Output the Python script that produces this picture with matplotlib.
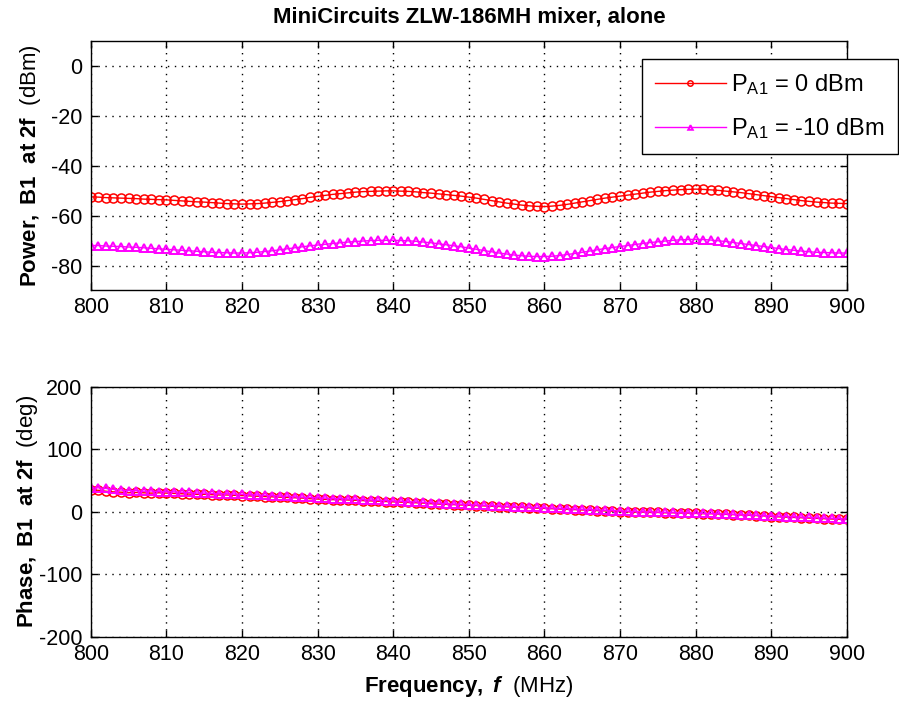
import numpy as np
import matplotlib
matplotlib.use("Agg")
import matplotlib.pyplot as plt

plt.rcParams["font.family"] = ["Liberation Sans", "DejaVu Sans"]
plt.rcParams["axes.unicode_minus"] = False
plt.rcParams["mathtext.fontset"] = "custom"
plt.rcParams["mathtext.rm"] = "Liberation Sans"
plt.rcParams["mathtext.bf"] = "Liberation Sans:bold"
plt.rcParams["mathtext.it"] = "Liberation Sans:italic"
plt.rcParams["mathtext.bfit"] = "Liberation Sans:italic:bold"

""" Sweep frequency (MHz), 1 MHz steps """
FREQ = np.arange(800, 901)

""" Output power of B1 at 2f (dBm), read off the plot """
power_0dbm = [
    -52.5, -52.6, -52.8, -52.9, -53.0, -53.1, -53.2, -53.4, -53.5, -53.6,
    -53.7, -53.9, -54.1, -54.3, -54.5, -54.6, -54.8, -55.0, -55.2, -55.3,
    -55.4, -55.3, -55.2, -55.0, -54.7, -54.4, -54.0, -53.6, -53.2, -52.7,
    -52.3, -51.9, -51.5, -51.2, -50.9, -50.6, -50.4, -50.3, -50.2, -50.1,
    -50.1, -50.2, -50.3, -50.5, -50.8, -51.0, -51.3, -51.6, -51.9, -52.2,
    -52.6, -53.0, -53.5, -54.0, -54.5, -55.0, -55.4, -55.8, -56.1, -56.3,
    -56.4, -56.2, -55.9, -55.5, -55.0, -54.5, -54.0, -53.5, -53.0, -52.6,
    -52.2, -51.8, -51.4, -51.0, -50.6, -50.3, -50.0, -49.8, -49.6, -49.5,
    -49.4, -49.5, -49.7, -49.9, -50.2, -50.5, -50.8, -51.2, -51.6, -52.0,
    -52.4, -52.8, -53.2, -53.6, -54.0, -54.3, -54.6, -54.8, -55.0, -55.1,
    -55.2,
]
power_m10dbm = [
    -72.0, -72.0, -72.2, -72.3, -72.4, -72.6, -72.7, -72.9, -73.1, -73.3,
    -73.5, -73.7, -73.9, -74.1, -74.3, -74.5, -74.7, -74.8, -74.9, -75.0,
    -75.0, -74.9, -74.7, -74.4, -74.1, -73.7, -73.3, -72.9, -72.5, -72.1,
    -71.8, -71.5, -71.2, -70.9, -70.6, -70.4, -70.2, -70.0, -69.9, -69.9,
    -69.9, -70.0, -70.1, -70.3, -70.6, -70.9, -71.3, -71.7, -72.1, -72.5,
    -73.0, -73.5, -74.0, -74.5, -75.0, -75.4, -75.8, -76.1, -76.3, -76.4,
    -76.4, -76.3, -76.0, -75.6, -75.2, -74.7, -74.2, -73.7, -73.2, -72.8,
    -72.4, -72.0, -71.6, -71.2, -70.8, -70.5, -70.2, -69.9, -69.7, -69.6,
    -69.5, -69.6, -69.8, -70.1, -70.4, -70.8, -71.2, -71.6, -72.0, -72.4,
    -72.8, -73.2, -73.6, -73.9, -74.2, -74.5, -74.7, -74.8, -74.9, -75.0,
    -75.0,
]

""" Phase of B1 at 2f (deg) """
phase_0dbm = [
    35.5, 34.5, 33.0, 32.0, 31.5, 30.5, 31.0, 30.5, 30.0, 30.5,
    30.0, 29.5, 29.0, 28.5, 28.0, 28.0, 27.5, 27.0, 27.0, 26.5,
    26.0, 25.5, 25.0, 24.5, 24.0, 23.5, 23.0, 22.5, 22.0, 21.0,
    20.5, 20.0, 19.5, 19.5, 19.0, 18.5, 18.0, 17.5, 17.0, 16.5,
    16.0, 15.5, 15.0, 14.5, 14.0, 13.0, 12.5, 12.0, 11.5, 11.0,
    10.5, 10.0, 9.5, 9.0, 8.5, 8.0, 7.5, 7.0, 6.5, 6.0,
    5.5, 5.0, 4.5, 4.0, 3.5, 3.0, 2.5, 2.0, 1.5, 1.0,
    0.5, 0.0, -0.5, -0.5, -1.0, -1.0, -1.5, -1.5, -2.0, -2.0,
    -2.5, -3.0, -3.0, -3.5, -4.0, -4.5, -5.0, -5.5, -6.0, -6.5,
    -7.5, -8.0, -8.5, -9.0, -9.5, -10.0, -10.5, -11.0, -11.5, -12.0,
    -12.0,
]
phase_m10dbm = [
    38.0, 38.5, 37.5, 36.0, 35.0, 34.0, 34.0, 33.0, 33.5, 32.5,
    32.5, 32.0, 31.5, 31.0, 30.0, 30.0, 29.5, 29.0, 29.0, 28.5,
    28.0, 27.5, 27.0, 26.5, 26.0, 25.5, 25.0, 24.0, 23.5, 23.0,
    22.5, 22.0, 21.0, 21.0, 20.5, 20.0, 19.5, 19.0, 18.5, 18.0,
    17.5, 17.0, 16.0, 16.0, 15.0, 14.5, 14.0, 13.0, 12.5, 12.0,
    11.5, 11.0, 10.5, 10.0, 9.5, 9.0, 8.5, 8.0, 7.5, 7.0,
    6.5, 6.0, 5.5, 5.0, 4.5, 4.0, 3.5, 3.0, 2.5, 2.0,
    1.5, 1.0, 0.5, 0.0, 0.0, -0.5, -1.0, -1.0, -1.5, -1.5,
    -2.0, -2.5, -2.5, -3.0, -3.5, -4.0, -4.5, -5.0, -5.5, -6.0,
    -6.5, -7.0, -7.5, -8.0, -8.5, -9.0, -9.5, -10.0, -10.5, -11.0,
    -11.5,
]

LABELS = [r"P$_{\mathrm{A1}}$ = 0 dBm", r"P$_{\mathrm{A1}}$ = -10 dBm"]
RED = "#ff0000"
MAGENTA = "#ff00ff"


""" MATLAB-ish axes styling: inward ticks on all four sides, dotted grid """
def style_axes(ax, yticks, ylim):
    ax.set_xlim(800, 900)
    ax.set_xticks(range(800, 901, 10))
    ax.set_ylim(*ylim)
    ax.set_yticks(yticks)
    ax.tick_params(direction="in", length=5, width=1, top=True, right=True,
                   labelsize=15.5, colors="black")
    ax.tick_params(axis="x", pad=5)
    ax.tick_params(axis="y", pad=6)
    ax.grid(True, color="black", ls=(0, (1, 4)), lw=1)
    for s in ax.spines.values():
        s.set_linewidth(1)
        s.set_color("black")


fig = plt.figure(figsize=(8.99, 7.05), dpi=100)
ax1 = fig.add_axes([0.101, 0.588, 0.841, 0.354])
ax2 = fig.add_axes([0.101, 0.097, 0.841, 0.354])

kw_o = dict(marker="o", color=RED, lw=1, ms=6.5, mfc="none", mew=1.1)
kw_t = dict(marker="^", color=MAGENTA, lw=1, ms=5.5, mfc="none", mew=1.4)

l1, = ax1.plot(FREQ, power_0dbm, label=LABELS[0], **kw_o)
l2, = ax1.plot(FREQ, power_m10dbm, label=LABELS[1], **kw_t)
ax2.plot(FREQ, phase_0dbm, **kw_o)
ax2.plot(FREQ, phase_m10dbm, **kw_t)

style_axes(ax1, [-80, -60, -40, -20, 0], (-90, 10))
style_axes(ax2, [-200, -100, 0, 100, 200], (-200, 200))

ax1.set_title("MiniCircuits ZLW-186MH mixer, alone", fontsize=16,
              fontweight="bold", pad=13)
ax1.set_ylabel(r"$\mathbf{Power,\ B1\ \ at\ 2f}$  (dBm)", fontsize=16,
               labelpad=6)
ax2.set_ylabel(r"$\mathbf{Phase,\ B1\ \ at\ 2f}$  (deg)", fontsize=16,
               labelpad=-1)
ax2.set_xlabel(r"$\mathbf{Frequency,}\ \mathbfit{f}$  (MHz)", fontsize=16,
               labelpad=7)

leg = ax1.legend(handles=[l1, l2], loc="upper right",
                 bbox_to_anchor=(898 / 899, 1 - 59 / 705),
                 bbox_transform=fig.transFigure, borderaxespad=0,
                 fontsize=17, fancybox=False, framealpha=1,
                 edgecolor="black", handlelength=3.0, markerscale=0.6,
                 labelspacing=0.8, borderpad=0.55, handletextpad=0.25)
leg.get_frame().set_linewidth(1)

fig.savefig("out.png", dpi=100)
